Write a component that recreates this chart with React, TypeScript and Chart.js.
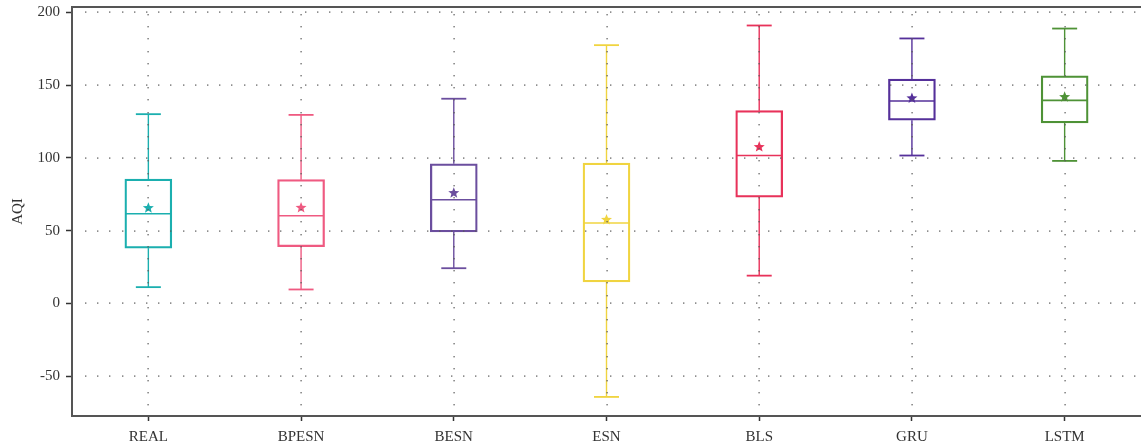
import React, { useEffect, useRef } from 'react';
import { Chart, registerables } from 'chart.js';

Chart.register(...registerables);

const categories = ['REAL', 'BPESN', 'BESN', 'ESN', 'BLS', 'GRU', 'LSTM'];
const whiskerLow = [11.2, 9.6, 24.2, -64.2, 19.1, 101.6, 97.9];
const q1 = [38.0, 39.0, 49.1, 14.8, 73.0, 125.8, 124.0];
const medians = [61.6, 60.2, 71.2, 55.3, 101.6, 139.0, 139.5];
const q3 = [85.4, 85.0, 95.9, 96.4, 132.4, 154.1, 156.4];
const whiskerHigh = [130.0, 129.5, 140.6, 177.4, 190.9, 182.0, 188.8];
const means = [65.5, 65.7, 75.8, 57.5, 107.5, 140.9, 141.8];
const colors = ['#1BAFAF', '#EF5A81', '#6B4E9E', '#F0D440', '#E8325A', '#55309A', '#4E9236'];
const yTicks = [-50, 0, 50, 100, 150, 200];

const FONT = { family: '"Liberation Serif", "DejaVu Serif", serif', size: 15 };

function drawStar(ctx: CanvasRenderingContext2D, cx: number, cy: number, ro: number, ri: number) {
  ctx.beginPath();
  for (let k = 0; k < 10; k++) {
    const r = k % 2 === 0 ? ro : ri;
    const a = -Math.PI / 2 + (k * Math.PI) / 5;
    const px = cx + r * Math.cos(a);
    const py = cy + r * Math.sin(a);
    if (k === 0) ctx.moveTo(px, py);
    else ctx.lineTo(px, py);
  }
  ctx.closePath();
  ctx.fill();
}

const DOT_STEP = 12.2;

const boxPlugin = {
  id: 'boxExtras',
  afterDatasetsDraw(chart: any) {
    const { ctx, chartArea, scales } = chart;
    const x = scales.x;
    const y = scales.y;
    const meta = chart.getDatasetMeta(0);
    ctx.save();
    const line = (x1: number, y1: number, x2: number, y2: number) => {
      ctx.beginPath();
      ctx.moveTo(x1, y1);
      ctx.lineTo(x2, y2);
      ctx.stroke();
    };
    categories.forEach((_, i) => {
      const cx = x.getPixelForValue(i);
      const col = colors[i];
      ctx.strokeStyle = col;
      ctx.fillStyle = col;
      ctx.setLineDash([]);
      ctx.lineWidth = 1.4;
      line(cx, y.getPixelForValue(q3[i]), cx, y.getPixelForValue(whiskerHigh[i]));
      line(cx, y.getPixelForValue(q1[i]), cx, y.getPixelForValue(whiskerLow[i]));
      ctx.lineWidth = 1.8;
      const capHalf = 12.5;
      const yh = y.getPixelForValue(whiskerHigh[i]);
      const yl = y.getPixelForValue(whiskerLow[i]);
      line(cx - capHalf, yh, cx + capHalf, yh);
      line(cx - capHalf, yl, cx + capHalf, yl);
      const bar = meta.data[i];
      const half = bar ? bar.width / 2 : 23.5;
      const ym = y.getPixelForValue(medians[i]);
      ctx.lineWidth = 1.6;
      line(cx - half + 1, ym, cx + half - 1, ym);
      drawStar(ctx, cx, y.getPixelForValue(means[i]), 5.8, 2.5);
    });
    ctx.strokeStyle = '#555';
    ctx.lineWidth = 2;
    line(chartArea.left - 1, chartArea.top, chartArea.right, chartArea.top);
    ctx.restore();
  },
};

const gridPlugin = {
  id: 'dotGrid',
  afterDraw(chart: any) {
    const { ctx, chartArea, scales } = chart;
    const x = scales.x;
    const y = scales.y;
    ctx.save();
    ctx.fillStyle = 'rgba(90,90,90,0.85)';
    yTicks.forEach((v) => {
      const py = Math.round(y.getPixelForValue(v));
      for (let px = chartArea.left + 13; px < chartArea.right; px += DOT_STEP) {
        ctx.fillRect(Math.round(px), py - 0.6, 1.4, 1.4);
      }
    });
    categories.forEach((_, i) => {
      const px = Math.round(x.getPixelForValue(i));
      for (let py = chartArea.top + 7; py < chartArea.bottom - 2; py += DOT_STEP) {
        ctx.fillRect(px - 0.6, Math.round(py), 1.4, 1.4);
      }
    });
    ctx.restore();
  },
};

export default function App() {
  const ref = useRef<HTMLCanvasElement | null>(null);
  useEffect(() => {
    document.body.style.margin = '0';
    if (!ref.current) return;
    const chart = new Chart(ref.current, {
      type: 'bar',
      data: {
        labels: categories,
        datasets: [
          {
            data: q1.map((v, i) => [v, q3[i]]) as any,
            backgroundColor: 'rgba(0,0,0,0)',
            borderColor: colors,
            borderWidth: 1.6,
            borderSkipped: false,
            barThickness: 47,
          },
        ],
      },
      options: {
        responsive: false,
        animation: false,
        layout: { padding: { top: 7, right: -2, left: 0, bottom: 0 } },
        plugins: { legend: { display: false }, tooltip: { enabled: false } },
        scales: {
          x: {
            type: 'category',
            offset: true,
            afterFit: (s: any) => {
              s.height = 30;
              s.paddingLeft = 0;
              s.paddingRight = 0;
            },
            ticks: { font: FONT, color: '#333', padding: 7 },
            grid: {
              offset: false,
              color: 'rgba(0,0,0,0)',
              lineWidth: 1,
              tickLength: 5,
              tickColor: '#333',
              tickWidth: 1.5,
            },
            border: { display: true, color: '#555', width: 2 },
          },
          y: {
            min: -77.3,
            max: 203.6,
            afterBuildTicks: (s: any) => {
              s.ticks = yTicks.map((v) => ({ value: v }));
            },
            afterFit: (s: any) => {
              s.width = 72;
              s.paddingTop = 0;
              s.paddingBottom = 0;
            },
            ticks: { font: FONT, color: '#333', padding: 6 },
            grid: {
              color: 'rgba(0,0,0,0)',
              lineWidth: 1,
              tickLength: 6,
              tickColor: '#333',
              tickWidth: 1.5,
            },
            border: { display: true, color: '#555', width: 2 },
            title: {
              display: true,
              text: 'AQI',
              font: FONT,
              color: '#333',
              padding: { top: 9, bottom: 0 },
            },
          },
        },
      },
      plugins: [boxPlugin, gridPlugin],
    });
    return () => chart.destroy();
  }, []);
  return <canvas ref={ref} width={1141} height={446} style={{ display: 'block' }} />;
}
